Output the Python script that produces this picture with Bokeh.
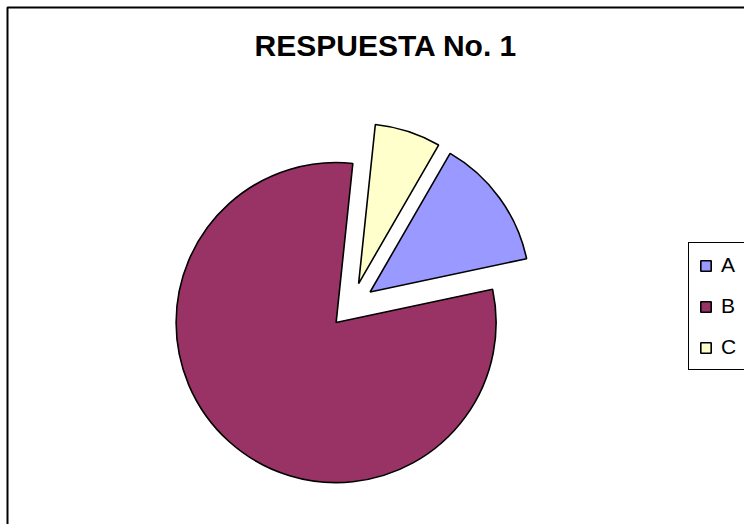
import numpy as np
from bokeh.plotting import figure
from bokeh.models import Range1d, ColumnDataSource, Legend, LegendItem, Label, BoxAnnotation
from bokeh.embed import file_html
from bokeh.resources import INLINE

# ---- data ----
categories = ["A", "B", "C"]
values = [2, 12, 1]
colors = ["#9999FF", "#993366", "#FFFFCC"]
title_text = "RESPUESTA No. 1"

# ---- pie geometry (Excel style: clockwise from 12 o'clock) ----
W, H = 744, 524
first_slice_angle = 30.0
explode = 23
radius = 160
cx, cy = 351, H - 305

vals = np.array(values, dtype=float)
frac = vals / vals.sum()
ends = first_slice_angle + 360.0 * np.cumsum(frac)
starts = ends - 360.0 * frac
mids = (starts + ends) / 2.0
start_math = np.radians(90.0 - ends)
end_math = np.radians(90.0 - starts)
mid_r = np.radians(mids)
xs = cx + explode * np.sin(mid_r)
ys = cy + explode * np.cos(mid_r)

src = ColumnDataSource(dict(cat=categories, x=xs, y=ys, start=start_math,
                            end=end_math, color=colors))

p = figure(width=W, height=H, output_backend="svg", toolbar_location=None,
           x_range=Range1d(0, W), y_range=Range1d(0, H),
           min_border=0)
p.axis.visible = False
p.grid.visible = False
p.background_fill_color = "white"
p.border_fill_color = "white"
p.outline_line_color = None

# chart-area border (left/top visible, right/bottom run off the canvas)
p.add_layout(BoxAnnotation(left=7, right=W + 40, top=H - 7, bottom=-40,
                           fill_alpha=0, line_color="black", line_alpha=1.0,
                           line_width=2))

r = p.wedge(x="x", y="y", radius=radius, start_angle="start", end_angle="end",
            fill_color="color", line_color="black", line_width=1.6, source=src)

title = Label(x=385.5, y=H - 45, text=title_text, text_align="center",
              text_baseline="alphabetic", text_font="Liberation Sans",
              text_font_style="bold", text_font_size="30px", text_color="black")
p.add_layout(title)

items = [LegendItem(label=c, renderers=[r], index=i) for i, c in enumerate(categories)]
legend = Legend(items=items, location=(688, H - 370), orientation="vertical",
                label_text_font="Liberation Sans", label_text_font_size="21px",
                label_text_color="black",
                label_standoff=9, glyph_width=13, glyph_height=13,
                padding=10, spacing=17, margin=0,
                border_line_color="black", border_line_alpha=1.0,
                border_line_width=1.5,
                background_fill_color="white", background_fill_alpha=1.0)
p.add_layout(legend)

open("out.html", "w").write(file_html(p, INLINE))
